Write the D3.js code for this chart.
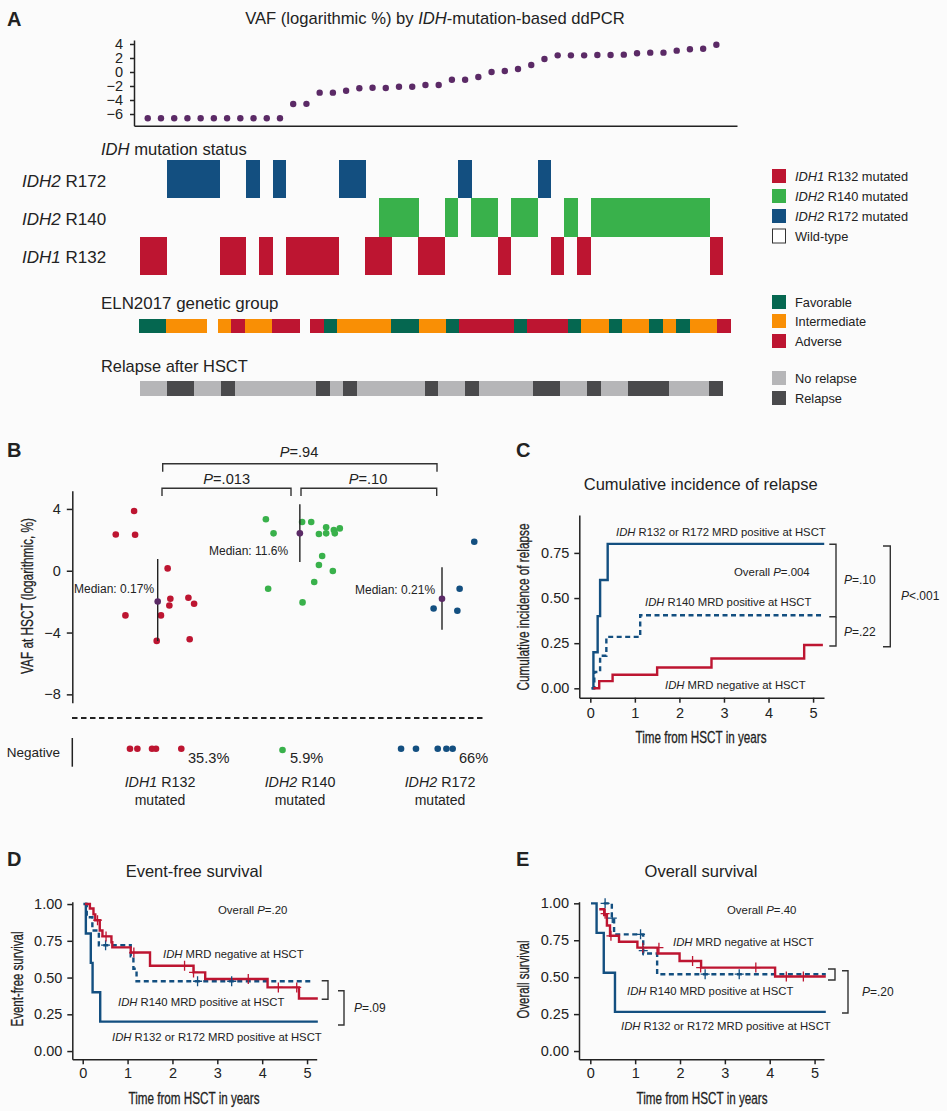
<!DOCTYPE html>
<html>
<head>
<meta charset="utf-8">
<script src="https://cdn.jsdelivr.net/npm/d3@7/dist/d3.min.js"></script>
<style>
  body { margin: 0; background: #fbfbfb; }
  svg { display: block; }
  text { font-family: "Liberation Sans", Arial, sans-serif; fill: #222; }
  .axis path, .axis line { stroke: #222; stroke-width: 1.5; }
  .axis text { font-size: 14.5px; }
  .bracket { fill: none; stroke: #333; stroke-width: 1.4; }
  .squeezed { stroke: #222; stroke-width: 0.3; }
</style>
</head>
<body>
<div id="chart"></div>
<script>
const red = '#bd1531', green = '#39b14b', blue = '#134f80', purple = '#5b2a66';
const darkGreen = '#056750', orange = '#f98f05', lightGrey = '#b6b6b8', darkGrey = '#4a4a4c';

// panel A
const vafSorted = [-6.6, -6.6, -6.6, -6.6, -6.6, -6.6, -6.6, -6.6, -6.6, -6.6, -6.6,
  -4.57, -4.55, -2.95, -2.95, -2.67, -2.33, -2.24, -2.29, -2.1, -2.1, -1.86, -1.86,
  -1.1, -1.1, -0.71, 0, 0.14, 0.43, 1.0, 1.86, 2.38, 2.38, 2.38, 2.43, 2.43, 2.48,
  2.67, 2.76, 2.76, 3.05, 3.24, 3.33, 3.9];
const vafTicks = [4, 2, 0, -2, -4, -6];
const mutationRows = ['R172', 'R140', 'R132'];
const r172Cols = [2, 3, 4, 5, 8, 10, 15, 16, 24, 30];
const r140Cols = [18, 19, 20, 23, 25, 26, 28, 29, 32, 34, 35, 36, 37, 38, 39, 40, 41, 42];
const r132Cols = [0, 1, 6, 7, 9, 11, 12, 13, 14, 17, 18, 21, 22, 27, 31, 33, 43];
const elnGroups = 'FFIII-IAIIAA-AFIIIIFFIIFAAAAFAAAFIIFIIFIFIIA'.split('');
const relapseCols = [2, 3, 6, 13, 15, 21, 24, 29, 30, 33, 36, 37, 38, 42];

// panel B: [offset from the group centre, VAF]
const r132Points = [[-0.166, 3.87], [-0.295, 2.35], [-0.159, 2.33], [0.07, 0.15], [0.089, -1.81], [0.216, -1.75],
  [0.256, -2.14], [0.082, -2.25], [-0.227, -2.89], [0.023, -2.89], [-0.007, -4.54], [0.225, -4.43]];
const r140Points = [[-0.239, 3.33], [-0.185, 2.42], [0.016, 3.15], [0.08, 3.15], [0.185, 2.81], [0.134, 2.38],
  [0.185, 2.42], [0.239, 2.63], [0.246, 2.42], [0.281, 2.74], [0.157, 0.95], [0.134, 0.37], [0.232, -0.02],
  [0.101, -0.73], [-0.223, -1.17], [0.019, -2.05]];
const r172Points = [[0.227, 1.88], [0.124, -1.17], [-0.059, -2.44], [0.108, -2.59]];
const r132Negative = [-0.195, -0.143, -0.04, -0.012, 0.166];
const r140Negative = [-0.122];
const r172Negative = [-0.288, -0.183, -0.03, 0.031, 0.075];
const medians = [-1.99, 2.42, -1.81];
const medianLow = [-4.54, 0.56, -3.82];
const medianHigh = [0.76, 4.3, 0.22];
const vafTicksB = [4, 0, -4, -8];

// panel C: [years, incidence]
const cirHigh = [[0.03, 0], [0.07, 0.2], [0.165, 0.4], [0.22, 0.6], [0.39, 0.8], [5.25, 0.8]];
const cirR140 = [[0.03, 0], [0.09, 0.09], [0.22, 0.18], [0.36, 0.285], [1.12, 0.405], [5.25, 0.405]];
const cirNeg = [[0.07, 0], [0.2, 0.04], [0.5, 0.075], [1.5, 0.115], [2.72, 0.165], [4.8, 0.24], [5.22, 0.24]];
const yearTicks = [0, 1, 2, 3, 4, 5];
const fractionTicks = [0, 0.25, 0.5, 0.75];
const survivalTicks = [0, 0.25, 0.5, 0.75, 1];

// panel D: [years, survival]
const efsHigh = [[0.015, 1], [0.07, 0.8], [0.18, 0.6], [0.22, 0.4], [0.39, 0.2], [5.24, 0.2]];
const efsR140 = [[0.05, 1], [0.09, 0.91], [0.215, 0.82], [0.36, 0.72], [1.07, 0.645], [1.13, 0.56], [1.2, 0.475], [5.1, 0.475]];
const efsNeg = [[0.05, 1], [0.16, 0.97], [0.24, 0.93], [0.28, 0.89], [0.38, 0.82], [0.44, 0.78], [0.64, 0.74], [0.66, 0.705],
  [1.07, 0.67], [1.5, 0.58], [2.47, 0.535], [2.73, 0.49], [4.12, 0.433], [4.82, 0.358], [5.24, 0.358]];
const efsR140Censored = [[0.51, 0.72], [2.56, 0.475], [3.32, 0.475]];
const efsNegCensored = [[0.33, 0.89], [0.52, 0.78], [1.14, 0.67], [2.27, 0.58], [2.47, 0.535], [3.69, 0.49], [4.36, 0.433], [4.77, 0.433]];

// panel E
const osHigh = [[0.015, 1], [0.14, 0.8], [0.3, 0.53], [0.55, 0.265], [5.25, 0.265]];
const osR140 = [[0.3, 1], [0.48, 0.9], [0.53, 0.79], [1.18, 0.66], [1.49, 0.52], [5.25, 0.52]];
const osNeg = [[0.2, 0.96], [0.31, 0.92], [0.37, 0.85], [0.44, 0.78], [0.64, 0.74], [1.05, 0.7], [1.5, 0.66], [1.99, 0.61],
  [2.47, 0.565], [4.12, 0.505], [5.25, 0.505]];
const osR140Censored = [[0.33, 1], [0.49, 0.9], [1.12, 0.79], [1.18, 0.68], [2.56, 0.52], [3.32, 0.52]];
const osNegCensored = [[0.33, 0.93], [0.46, 0.78], [1.17, 0.7], [1.53, 0.7], [2.28, 0.61], [2.46, 0.565], [3.69, 0.565], [4.37, 0.505], [4.75, 0.505]];

const svg = d3.select('#chart').append('svg').attr('width', 947).attr('height', 1111);

// *word* in a label is set in italics
function label(x, y, str, size, opts = {}) {
  const t = svg.append('text').attr('x', x).attr('y', y).attr('dy', '0.35em')
    .attr('font-size', size).attr('text-anchor', opts.anchor || 'start');
  if (opts.weight) t.attr('font-weight', opts.weight);
  if (opts.rotate) t.attr('transform', `rotate(-90 ${x} ${y})`);
  // the condensed axis titles of the original: squeeze to the measured length
  if (opts.length) t.attr('class', 'squeezed').attr('textLength', opts.length).attr('lengthAdjust', 'spacingAndGlyphs');
  str.split('*').forEach((part, i) => {
    t.append('tspan').attr('font-style', i % 2 ? 'italic' : 'normal').text(part);
  });
  return t;
}

function bracket(points) {
  svg.append('path').attr('class', 'bracket').attr('d', d3.line()(points));
}

function drawAxis(axis, tx, ty) {
  return svg.append('g').attr('class', 'axis').attr('transform', `translate(${tx},${ty})`).call(axis);
}

const minusFormat = d => String(d).replace('-', '\u2212');

[['A', 7, 19], ['B', 7, 450], ['C', 516, 450], ['D', 7, 859], ['E', 516, 859]]
  .forEach(d => label(d[1], d[2], d[0], 20, { weight: 'bold' }));

// ---- A
label(435, 18, 'VAF (logarithmic %) by *IDH*-mutation-based ddPCR', 16.6, { anchor: 'middle' });
const xDot = d3.scaleLinear().domain([-1.04, 44.56]).range([134, 737]);
const yDot = d3.scaleLinear().domain([-7.67, 4.57]).range([125.7, 40]);
drawAxis(d3.axisLeft(yDot).tickValues(vafTicks).tickSize(4).tickPadding(7).tickSizeOuter(0).tickFormat(minusFormat), 134, 0);
drawAxis(d3.axisBottom(xDot).tickValues([]).tickSizeOuter(0), 0, 125.7);
svg.append('g').selectAll('circle').data(vafSorted).join('circle')
  .attr('cx', (d, i) => xDot(i)).attr('cy', d => yDot(d)).attr('r', 3.2).attr('fill', purple);

const colBand = d3.scaleBand().domain(d3.range(44)).range([140, 723]);
const rowBand = d3.scaleBand().domain(mutationRows).range([160, 275]);
const mutationSeries = [['R172', r172Cols, blue], ['R140', r140Cols, green], ['R132', r132Cols, red]];
mutationSeries.forEach(([row, cols, colour]) => {
  svg.append('g').attr('shape-rendering', 'crispEdges').selectAll('rect').data(cols).join('rect')
    .attr('x', d => colBand(d)).attr('y', rowBand(row))
    .attr('width', colBand.bandwidth() + 0.4).attr('height', rowBand.bandwidth()).attr('fill', colour);
});
label(101, 149, '*IDH* mutation status', 16.6);
label(22, 181, '*IDH2* R172', 17);
label(22, 219, '*IDH2* R140', 17);
label(22, 257, '*IDH1* R132', 17);

// the two patients without a group take a slightly narrower slot
const elnGapWidth = 0.8;
let elnPos = 0;
const elnCells = elnGroups.map(g => {
  const w = g === '-' ? elnGapWidth : 1;
  const cell = { g, start: elnPos, end: elnPos + w };
  elnPos += w;
  return cell;
});
const xEln = d3.scaleLinear().domain([0, elnPos]).range([139, 730.7]);
const elnColour = { F: darkGreen, I: orange, A: red };
svg.append('g').attr('shape-rendering', 'crispEdges').selectAll('rect')
  .data(elnCells.filter(d => d.g !== '-')).join('rect')
  .attr('x', d => xEln(d.start)).attr('y', 319).attr('width', d => xEln(d.end) - xEln(d.start) + 0.4).attr('height', 14)
  .attr('fill', d => elnColour[d.g]);
label(101, 303, 'ELN2017 genetic group', 16.9);

const relBand = d3.scaleBand().domain(d3.range(43)).range([140, 723]);
svg.append('g').attr('shape-rendering', 'crispEdges').selectAll('rect').data(d3.range(43)).join('rect')
  .attr('x', d => relBand(d)).attr('y', 381).attr('width', relBand.bandwidth() + 0.4).attr('height', 15)
  .attr('fill', d => relapseCols.includes(d) ? darkGrey : lightGrey);
label(101, 366, 'Relapse after HSCT', 16.4);

[[176, red, '*IDH1* R132 mutated'], [196, green, '*IDH2* R140 mutated'], [216, blue, '*IDH2* R172 mutated'],
  [236, null, 'Wild-type'], [302, darkGreen, 'Favorable'], [321, orange, 'Intermediate'], [341, red, 'Adverse'],
  [378, lightGrey, 'No relapse'], [398, darkGrey, 'Relapse']].forEach(([y, colour, name]) => {
  svg.append('rect').attr('x', colour ? 772 : 772.5).attr('y', y - 7).attr('width', colour ? 14 : 13).attr('height', 14)
    .attr('fill', colour || '#fff').attr('stroke', colour ? 'none' : '#333');
  label(795, y + 0.5, name, 12.8);
});

// ---- B
const xGroup = d3.scaleLinear().domain([0, 2]).range([157.7, 442]);
const yVaf = d3.scaleLinear().domain([-8.54, 5.18]).range([702.7, 490.7]);
drawAxis(d3.axisLeft(yVaf).tickValues(vafTicksB).tickSize(5.5).tickPadding(6).tickSizeOuter(0).tickFormat(minusFormat), 72.3, 0);
const groupColours = [red, green, blue];
[r132Points, r140Points, r172Points].forEach((pts, g) => {
  svg.append('g').selectAll('circle').data(pts).join('circle')
    .attr('cx', d => xGroup(g + d[0])).attr('cy', d => yVaf(d[1])).attr('r', 3.3).attr('fill', groupColours[g]);
  svg.append('line').attr('x1', xGroup(g)).attr('x2', xGroup(g))
    .attr('y1', yVaf(medianLow[g])).attr('y2', yVaf(medianHigh[g])).attr('stroke', '#222').attr('stroke-width', 1.4);
  svg.append('circle').attr('cx', xGroup(g)).attr('cy', yVaf(medians[g])).attr('r', 3.3).attr('fill', purple);
});
const yNegative = [748.7, 750, 748.7];
[r132Negative, r140Negative, r172Negative].forEach((pts, g) => {
  svg.append('g').selectAll('circle').data(pts).join('circle')
    .attr('cx', d => xGroup(g + d)).attr('cy', yNegative[g]).attr('r', 3.3).attr('fill', groupColours[g]);
});
svg.append('line').attr('x1', 72).attr('x2', 486).attr('y1', 718).attr('y2', 718)
  .attr('stroke', '#222').attr('stroke-width', 1.8).attr('stroke-dasharray', '5.5 3.5');
svg.append('line').attr('x1', 72.3).attr('x2', 72.3).attr('y1', 738).attr('y2', 766.7)
  .attr('stroke', '#222').attr('stroke-width', 1.5);
label(27, 596, 'VAF at HSCT (logarithmic, %)', 17, { anchor: 'middle', rotate: true, length: 156 });
label(74, 589, 'Median: 0.17%', 12);
label(209, 551, 'Median: 11.6%', 12);
label(355, 590, 'Median: 0.21%', 12);
label(6.7, 752, 'Negative', 13.5);
label(188, 758, '35.3%', 14.6);
label(290, 758, '5.9%', 14.6);
label(459, 758, '66%', 14.6);
label(160, 782, '*IDH1* R132', 14.3, { anchor: 'middle' });
label(160, 800, 'mutated', 14, { anchor: 'middle' });
label(300, 782, '*IDH2* R140', 14.3, { anchor: 'middle' });
label(300, 800, 'mutated', 14, { anchor: 'middle' });
label(440, 782, '*IDH2* R172', 14.3, { anchor: 'middle' });
label(440, 800, 'mutated', 14, { anchor: 'middle' });
bracket([[162.7, 471.7], [162.7, 463.7], [437, 463.7], [437, 471.7]]);
bracket([[162, 496], [162, 488.3], [291, 488.3], [291, 496]]);
bracket([[301, 496], [301, 488.3], [436.7, 488.3], [436.7, 496]]);
label(299, 452, '*P*=.94', 14.6, { anchor: 'middle' });
label(226.7, 479, '*P*=.013', 14.6, { anchor: 'middle' });
label(368, 479, '*P*=.10', 14.6, { anchor: 'middle' });

// ---- survival panels
function curve(x, y, pts, colour, dashed) {
  svg.append('path').datum(pts)
    .attr('fill', 'none').attr('stroke', colour).attr('stroke-width', 2.4)
    .attr('stroke-dasharray', dashed ? '5 3.5' : null)
    .attr('d', d3.line().x(d => x(d[0])).y(d => y(d[1])).curve(d3.curveStepAfter));
}
function censors(x, y, pts, colour) {
  svg.append('g').selectAll('path').data(pts).join('path')
    .attr('fill', 'none').attr('stroke', colour).attr('stroke-width', 1.3)
    .attr('d', d => `M${x(d[0]) - 4.5},${y(d[1])}h9M${x(d[0])},${y(d[1]) - 5}v10`);
}
function frame(x, y, yTicks, baseX, baseY, padding) {
  drawAxis(d3.axisLeft(y).tickValues(yTicks).tickSize(5).tickPadding(5).tickSizeOuter(0).tickFormat(d3.format('.2f')), baseX, 0);
  drawAxis(d3.axisBottom(x).tickValues(yearTicks).tickSize(5).tickSizeOuter(0).tickPadding(padding).tickFormat(d3.format('d')), 0, baseY);
}

// ---- C
const xC = d3.scaleLinear().domain([-0.247, 5.245]).range([579.3, 824]);
const yC = d3.scaleLinear().domain([-0.052, 0.96]).range([697.7, 515]);
frame(xC, yC, fractionTicks, 579.3, 697.7, 5);
curve(xC, yC, cirR140, blue, true);
curve(xC, yC, cirHigh, blue);
curve(xC, yC, cirNeg, red);
label(700.7, 484, 'Cumulative incidence of relapse', 16.5, { anchor: 'middle' });
label(523, 607, 'Cumulative incidence of relapse', 17, { anchor: 'middle', rotate: true, length: 167 });
label(701, 737, 'Time from HSCT in years', 17, { anchor: 'middle', length: 131 });
label(616, 532, '*IDH* R132 or R172 MRD positive at HSCT', 11.3);
label(734, 572, 'Overall *P*=.004', 11.4);
label(645, 602, '*IDH* R140 MRD positive at HSCT', 11.3);
label(665, 685, '*IDH* MRD negative at HSCT', 11.3);
bracket([[829.3, 544.3], [836, 544.3], [836, 616.7], [829.3, 616.7]]);
bracket([[836, 616.7], [836, 646], [829.3, 646]]);
bracket([[883, 546], [890.3, 546], [890.3, 646.7], [883, 646.7]]);
label(844, 580, '*P*=.10', 12);
label(844, 632, '*P*=.22', 12);
label(901, 596, '*P*<.001', 12);

// ---- D
const xD = d3.scaleLinear().domain([-0.232, 5.215]).range([72.3, 316.7]);
const yD = d3.scaleLinear().domain([-0.056, 1.016]).range([1059.3, 901.7]);
frame(xD, yD, survivalTicks, 72.3, 1059.3, 3);
curve(xD, yD, efsR140, blue, true);
curve(xD, yD, efsHigh, blue);
curve(xD, yD, efsNeg, red);
censors(xD, yD, efsR140Censored, blue);
censors(xD, yD, efsNegCensored, red);
label(194, 871.7, 'Event-free survival', 16.5, { anchor: 'middle' });
label(17, 979, 'Event-free survival', 17, { anchor: 'middle', rotate: true, length: 95 });
label(194, 1098, 'Time from HSCT in years', 17, { anchor: 'middle', length: 131 });
label(218, 910, 'Overall *P*=.20', 11.4);
label(163, 954, '*IDH* MRD negative at HSCT', 11.3);
label(118, 1002, '*IDH* R140 MRD positive at HSCT', 11.3);
label(112, 1037, '*IDH* R132 or R172 MRD positive at HSCT', 11.3);
bracket([[321.7, 980.7], [328, 980.7], [328, 999.3], [321.7, 999.3]]);
bracket([[338, 990.7], [344, 990.7], [344, 1025], [338, 1025]]);
label(354, 1008, '*P*=.09', 12);

// ---- E
const xE = d3.scaleLinear().domain([-0.252, 5.21]).range([579, 824]);
const yE = d3.scaleLinear().domain([-0.056, 1.011]).range([1059.3, 901.7]);
frame(xE, yE, survivalTicks, 579, 1059.3, 3);
curve(xE, yE, osR140, blue, true);
curve(xE, yE, osHigh, blue);
curve(xE, yE, osNeg, red);
censors(xE, yE, osR140Censored, blue);
censors(xE, yE, osNegCensored, red);
label(701, 871.7, 'Overall survival', 16.5, { anchor: 'middle' });
label(523, 979.5, 'Overall survival', 17, { anchor: 'middle', rotate: true, length: 78 });
label(702, 1098, 'Time from HSCT in years', 17, { anchor: 'middle', length: 131 });
label(727, 910, 'Overall *P*=.40', 11.4);
label(673, 942, '*IDH* MRD negative at HSCT', 11.3);
label(627, 991, '*IDH* R140 MRD positive at HSCT', 11.3);
label(621, 1026, '*IDH* R132 or R172 MRD positive at HSCT', 11.3);
bracket([[828, 969], [835, 969], [835, 980], [828, 980]]);
bracket([[842, 970.7], [848, 970.7], [848, 1013], [842, 1013]]);
label(862, 991.7, '*P*=.20', 12);
</script>
</body>
</html>
